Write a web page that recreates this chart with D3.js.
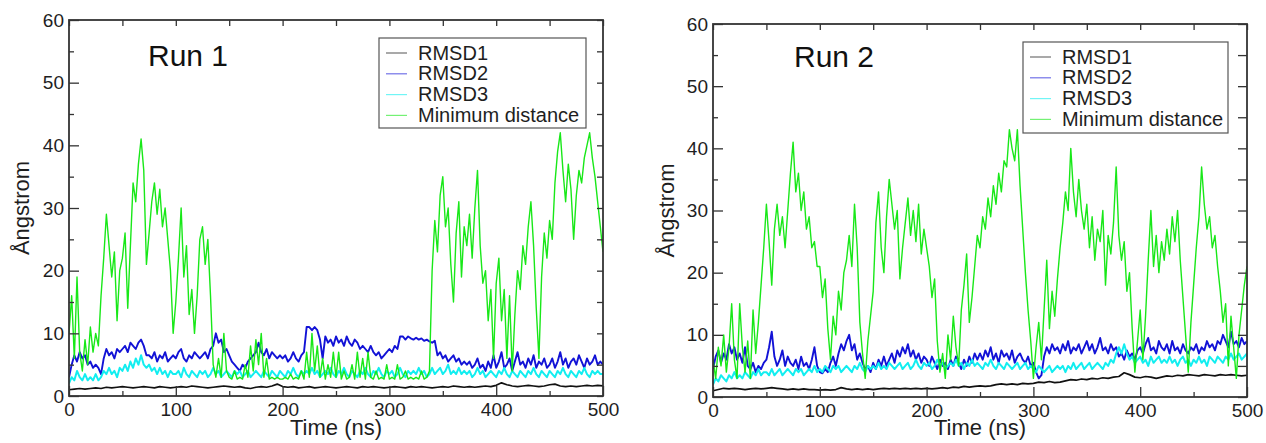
<!DOCTYPE html>
<html lang="en">
<head>
<meta charset="UTF-8">
<title>RMSD and minimum distance - Run 1 / Run 2</title>
<script src="https://d3js.org/d3.v7.min.js"></script>
<style>
  body, html { margin: 0; padding: 0; background: #fff; overflow: hidden; }
  svg { display: block; font-family: "Liberation Sans", Arial, Helvetica, sans-serif; }
  .tick text { font-size: 19px; fill: #1e1e1e; }
  .tick line { stroke: #333; stroke-width: 1.3px; }
</style>
</head>
<body>
<svg width="1266" height="443"></svg>
<script>
// ---- data ----
const xTicks = [0, 100, 200, 300, 400, 500];
const yTicks = [0, 10, 20, 30, 40, 50, 60];
const seriesNames = ["RMSD1", "RMSD2", "RMSD3", "Minimum distance"];
const seriesColors = ["#111111", "#1212d6", "#12eef0", "#18e818"];
const seriesWidths = [1.7, 1.9, 2.0, 1.4];
const runTitles = ["Run 1", "Run 2"];
const xLabel = "Time (ns)";
const yLabel = "Ångstrom";

// sampled every 5 ns
const run1Rmsd1 = [
  1.0, 1.1, 1.2, 1.1, 1.2, 1.3, 1.2, 1.4, 1.3, 1.4,
  1.5, 1.4, 1.3, 1.4, 1.5, 1.4, 1.3, 1.5, 1.4, 1.3,
  1.4, 1.5, 1.4, 1.6, 1.5, 1.4, 1.3, 1.4, 1.5, 1.6,
  1.5, 1.4, 1.5, 1.3, 1.2, 1.4, 1.5, 1.4, 1.6, 1.9,
  1.5, 1.4, 1.5, 1.3, 1.4, 1.5, 1.3, 1.4, 1.5, 1.4,
  1.3, 1.4, 1.5, 1.4, 1.3, 1.5, 1.4, 1.5, 1.4, 1.3,
  1.4, 1.5, 1.4, 1.3, 1.5, 1.4, 1.5, 1.4, 1.3, 1.4,
  1.5, 1.4, 1.6, 1.5, 1.4, 1.5, 1.4, 1.5, 1.6, 1.5,
  1.7, 2.1, 1.8, 1.6, 1.5, 1.6, 1.7, 1.6, 1.5, 1.6,
  1.8, 1.9, 1.6, 1.5, 1.6, 1.5, 1.6, 1.7, 1.6, 1.7,
  1.6
];
// sampled every 2.5 ns
const run1Rmsd2 = [
  3, 5, 6.5, 5.5, 7, 6, 6.5, 5, 5.5, 4.5,
  5, 4.5, 3.5, 6, 7.5, 6.5, 7, 6, 7.5, 7,
  7.5, 8, 7, 8.5, 8, 7.5, 8.5, 9, 8, 6.5,
  6.5, 6, 7, 5.5, 6.5, 6, 7, 5.5, 6, 6.5,
  6, 7, 7.5, 6, 5.5, 6.5, 6, 7, 6.5, 6,
  6.5, 7, 6, 7.5, 8, 10, 8.5, 9, 7, 7.5,
  6.5, 5.5, 5, 4.5, 4, 5, 4.5, 5.5, 6, 6.5,
  7, 8.5, 7, 6.5, 7.5, 6, 7, 6.5, 6, 6.5,
  6, 6.5, 5.5, 6, 7, 6, 5.5, 6.5, 7, 11,
  11, 10.5, 11, 10.5, 9, 6, 9.5, 8.5, 9, 8,
  9.5, 8.5, 9, 8, 9.5, 8.5, 8, 9, 8.5, 7.5,
  8, 7.5, 7, 8, 7, 6.5, 7, 6, 6.5, 7,
  7.5, 7, 8, 7.5, 9.5, 9.5, 9, 9.5, 9.2, 9,
  9.3, 9, 9.2, 8.8, 9, 8.7, 8.5, 8.8, 6.5, 7,
  6, 6.5, 5.5, 6, 6.5, 5.5, 6, 5, 5.5, 5,
  5.5, 4.5, 5, 6, 4.5, 5, 4, 5.5, 4.5, 6.5,
  4.5, 5.5, 7, 4.5, 5, 6, 4, 5.5, 7, 5,
  5.5, 4.5, 6, 5, 6.5, 4.5, 5.5, 5, 6, 4.5,
  5, 6, 4.5, 5.5, 7, 5, 6, 4.5, 5.5, 6,
  5, 6.5, 5.5, 4.5, 6, 5, 5.5, 6.5, 5, 5.5,
  5
];
const run1Rmsd3 = [
  2, 3, 2.5, 4, 3, 2.5, 3.5, 2.5, 3, 2.5,
  3.5, 2.5, 3, 4, 3.5, 4.5, 3.5, 4, 3, 4.5,
  4, 5, 4, 5.5, 4.5, 6, 5, 6.5, 5, 4.5,
  5, 4, 4.5, 3.5, 4.5, 3.5, 4, 3, 4, 3.5,
  3.5, 4, 3, 4.5, 3.5, 3, 4, 3.5, 3, 4,
  3.5, 4, 3, 3.5, 4.5, 3.5, 4, 3, 3.5, 4,
  3.5, 3, 4, 3.5, 4, 3, 3.5, 4, 3, 3.5,
  4, 3.5, 3, 4, 3.5, 3, 4, 3.5, 3, 4,
  3.5, 3, 4, 3.5, 4.5, 3.5, 3, 4, 3.5, 4,
  3.5, 4.5, 3.5, 4, 3, 3.5, 4, 3.5, 4.5, 3.5,
  3, 4, 3.5, 4.5, 3.5, 3, 4, 3.5, 3, 4,
  3.5, 4.5, 3.5, 3, 4, 3.5, 4.5, 3.5, 3, 4,
  3.5, 4, 3, 3.5, 4.5, 3.5, 3, 4, 3.5, 4,
  3.5, 4.5, 3.5, 4, 3, 3.5, 4.5, 3.5, 4, 4.5,
  3.5, 4, 5, 3.5, 4, 3.5, 4.5, 3.5, 4, 3.5,
  4, 3, 3.5, 4.5, 3.5, 4, 3, 3.5, 4, 3.5,
  3, 4, 3.5, 4.5, 3.5, 3, 4, 3.5, 3, 4,
  3.5, 3, 4, 3.5, 4.5, 3.5, 3, 4, 3.5, 3,
  4, 3.5, 3, 4, 3.5, 4.5, 3.5, 3, 4, 3.5,
  3, 4, 3.5, 4.5, 3.5, 3, 4, 3.5, 4, 3.5,
  3.5
];
const run1MinDist = [
  10, 16, 6, 19, 7, 4, 9, 5, 11, 7,
  10, 8, 16, 22, 29, 24, 19, 23, 12, 20,
  22, 26, 14, 24, 34, 31, 37, 41, 36, 21,
  26, 31, 34, 29, 33, 27, 30, 25, 20, 10,
  15, 22, 30, 19, 24, 13, 17, 10, 16, 25,
  27, 21, 25, 16, 5, 3, 6, 3, 10, 4,
  3, 2.7, 4, 2.7, 3, 2.7, 5, 3, 8, 4,
  9, 5, 10, 3, 6, 2.7, 3, 2.7, 3, 2.7,
  2.7, 3, 2.7, 3.5, 2.7, 3, 2.7, 4, 2.7, 7,
  3, 10, 4, 8, 3, 6, 2.7, 5, 3, 7,
  3, 7, 2.7, 4, 2.7, 3, 5, 2.7, 7, 3,
  6, 2.7, 7, 3, 2.7, 4, 2.7, 3, 2.7, 5,
  2.7, 3, 2.7, 5, 2.7, 3, 4, 2.7, 3, 2.7,
  3, 2.7, 4, 2.7, 3, 4, 20, 28, 23, 32,
  35, 27, 30, 21, 15, 26, 31, 19, 27, 24,
  29, 22, 30, 36, 24, 18, 20, 12, 17, 6,
  18, 22, 12, 17, 6, 16, 4, 13, 20, 17,
  24, 21, 27, 31, 24, 14, 6, 19, 26, 22,
  28, 25, 34, 39, 42, 36, 31, 37, 33, 25,
  32, 36, 34, 38, 40, 42, 38, 35, 31, 27,
  23
];

const run2Rmsd1 = [
  1.0, 1.2, 1.4, 1.3, 1.4, 1.3, 1.2, 1.3, 1.4, 1.3,
  1.4, 1.5, 1.4, 1.3, 1.2, 1.3, 1.2, 1.3, 1.2, 1.2,
  1.1, 1.2, 1.1, 1.2, 1.5, 1.3, 1.2, 1.3, 1.2, 1.3,
  1.2, 1.3, 1.4, 1.3, 1.4, 1.3, 1.4, 1.3, 1.4, 1.3,
  1.4, 1.3, 1.4, 1.5, 1.4, 1.6, 1.5, 1.7, 1.6, 1.7,
  1.8, 1.7, 1.8, 2.0, 2.1, 2.0, 2.1, 2.0, 2.2, 2.1,
  2.2, 2.4, 2.3, 2.5, 2.3, 2.4, 2.6, 2.8, 2.7, 2.9,
  2.8, 3.0, 2.9, 3.1, 3.0, 3.2, 3.3, 3.9, 3.6, 3.2,
  3.1, 3.3, 3.2, 3.0, 3.2, 3.4, 3.3, 3.5, 3.4, 3.6,
  3.5, 3.4, 3.6, 3.5, 3.4, 3.6, 3.5, 3.6, 3.5, 3.4,
  3.5
];
const run2Rmsd2 = [
  4.5, 6.5, 7.5, 5.5, 7, 6, 8.5, 7, 8, 6,
  7, 5.5, 8, 5, 4.5, 5.5, 4, 5, 4.5, 5.5,
  6, 8, 10.5, 6.5, 5, 6, 7.5, 5, 6.5, 5.5,
  5, 6, 4.5, 6.5, 5, 5.5, 4.5, 6, 8, 5,
  4, 3.8, 4.5, 4, 5.5, 6.5, 5, 7, 8.5, 7.5,
  9, 10, 7.5, 8.5, 6, 7, 5.5, 4.5, 5, 4,
  5.5, 4.5, 6, 5, 6.5, 5, 6, 7, 5.5, 7.5,
  6.5, 8, 7, 8.5, 6.5, 7.5, 6, 7, 5.5, 6.5,
  6, 5, 6.5, 5.5, 4.5, 6, 5, 5.5, 4.5, 6,
  5, 6.5, 5.5, 4.5, 6, 5, 6.5, 5.5, 7, 6,
  7, 6, 7.5, 6.5, 8, 6, 7, 5.5, 7.5, 6.5,
  7, 6, 7.5, 5.5, 6.5, 7, 6, 5.5, 6.5, 5,
  5.5, 4, 3, 3.5, 6.5, 8, 7, 8.5, 7.5, 8,
  7, 8.5, 7.5, 9, 7, 8, 7.5, 8.5, 7, 8,
  9, 7.5, 8.5, 7, 8, 9.5, 7.5, 8, 7, 8.5,
  7.5, 8, 6.5, 7, 6, 7.5, 6.5, 7, 6, 7.5,
  8, 7, 8.5, 9.5, 7.5, 8, 7, 9, 8, 7.5,
  8.5, 7, 9, 7.5, 8, 7, 8.5, 7.5, 7, 8,
  7.5, 8.5, 7, 8, 7.5, 9, 8, 8.5, 7.5, 9,
  8.5, 10, 9, 8, 10.5, 8.5, 9, 8, 9.5, 8.5,
  9
];
const run2Rmsd3 = [
  2, 3, 2.5, 3.5, 3, 2.5, 3.5, 3, 4, 3,
  3.5, 3, 4, 3.5, 3, 4, 3.5, 4.5, 3.5, 4,
  4, 3.5, 4.5, 3.5, 4, 4.5, 3.5, 4, 4.5, 4,
  3.5, 4.5, 4, 4.5, 3.5, 4, 4.5, 4, 5, 4,
  4.5, 4, 5, 4.5, 4, 5, 4.5, 5, 4, 4.5,
  5, 4.5, 4, 5, 4.5, 5.5, 4.5, 4, 5, 4.5,
  5, 4.5, 5.5, 4.5, 5, 4.5, 5.5, 5, 4.5, 5,
  5.5, 4.5, 5, 5.5, 4.5, 5, 6, 5, 4.5, 5.5,
  5, 5.5, 4.5, 5, 6, 5, 5.5, 4.5, 5, 5.5,
  5, 6, 5, 5.5, 4.5, 5.5, 5, 6, 5, 5.5,
  5, 4.5, 5.5, 5, 6, 5, 4.5, 5.5, 5, 4.5,
  5.5, 5, 4.5, 5, 5.5, 4.5, 5, 5.5, 4.5, 5,
  4.5, 4, 5, 4.5, 4, 4.5, 5, 4, 4.5, 5,
  4.5, 5, 4, 5, 4.5, 5.5, 4.5, 5, 5.5, 4.5,
  5, 5.5, 4.5, 5, 5.5, 5, 4.5, 5.5, 5, 6,
  5.5, 7, 8, 7, 8.5, 7, 6, 6.5, 5.5, 6,
  6.5, 5.5, 6, 5, 6.5, 5.5, 6, 6.5, 5.5, 6,
  5.5, 6.5, 5.5, 6, 5, 6, 6.5, 5.5, 6, 5,
  6, 5.5, 6.5, 5.5, 6, 5, 6.5, 6, 5.5, 6.5,
  6, 5.5, 6.5, 6, 7, 6, 6.5, 7, 6, 6.5,
  7
];
const run2MinDist = [
  6, 3, 8, 5, 10, 4, 8, 15, 6, 3,
  15, 8, 4, 9, 3, 14, 7, 12, 18, 24,
  31, 25, 18, 27, 31, 26, 29, 24, 30, 36,
  41, 33, 36, 30, 33, 27, 29, 24, 25, 21,
  21, 16, 19, 11, 6, 13, 10, 17, 14, 20,
  22, 26, 21, 31, 24, 12, 7, 3, 9, 13,
  17, 28, 33, 24, 20, 29, 35, 31, 27, 30,
  19, 24, 28, 32, 26, 30, 25, 31, 23, 27,
  24, 21, 16, 19, 9, 4, 7, 3, 10, 6,
  13, 8, 5, 14, 18, 23, 12, 16, 21, 26,
  24, 29, 27, 32, 29, 34, 31, 36, 33, 38,
  37, 43, 40, 38, 43, 34, 27, 20, 14, 9,
  3, 8, 12, 6, 14, 22, 11, 17, 13, 19,
  24, 28, 33, 30, 40, 33, 29, 35, 30, 27,
  31, 24, 29, 22, 27, 25, 30, 18, 26, 23,
  28, 37, 26, 22, 25, 17, 20, 11, 4, 9,
  14, 6, 13, 22, 30, 21, 26, 20, 25, 22,
  27, 23, 29, 25, 30, 22, 16, 10, 4, 12,
  18, 24, 29, 37, 31, 27, 29, 24, 26, 21,
  17, 12, 15, 5, 13, 8, 3, 10, 14, 18,
  21
];

const runs = [
  [run1Rmsd1, run1Rmsd2, run1Rmsd3, run1MinDist],
  [run2Rmsd1, run2Rmsd2, run2Rmsd3, run2MinDist]
];

// ---- layout ----
const panels = [
  { left: 69, right: 603, top: 20, bottom: 396, titleX: 148, titleY: 66,
    yLabelX: 29, legend: { x: 379, y: 38, w: 207, h: 90 }, rightTick: 6 },
  { left: 713, right: 1247, top: 24, bottom: 397, titleX: 794, titleY: 67,
    yLabelX: 674, legend: { x: 1023, y: 42, w: 205, h: 91 }, rightTick: 9 }
];

const svg = d3.select("svg");

panels.forEach((p, idx) => {
  const x = d3.scaleLinear().domain([0, 500]).range([p.left, p.right]);
  const y = d3.scaleLinear().domain([0, 60]).range([p.bottom, p.top]);
  const g = svg.append("g");

  const clipId = "plotclip" + idx;
  svg.append("clipPath").attr("id", clipId)
    .append("rect")
    .attr("x", p.left).attr("y", p.top)
    .attr("width", p.right - p.left).attr("height", p.bottom - p.top);

  // series lines, last one (minimum distance) on top
  const line = d3.line().x(d => x(d[0])).y(d => y(d[1]));
  runs[idx].forEach((vals, k) => {
    const step = 500 / (vals.length - 1);
    const pts = vals.map((v, i) => [i * step, v]);
    g.append("path")
      .datum(pts)
      .attr("clip-path", `url(#${clipId})`)
      .attr("fill", "none")
      .attr("stroke", seriesColors[k])
      .attr("stroke-width", seriesWidths[k])
      .attr("stroke-linejoin", "round")
      .attr("d", line);
  });

  // axes, ticks pointing inward
  const bottom = p.bottom, left = p.left;
  g.append("g").attr("transform", `translate(0,${bottom})`)
    .call(d3.axisBottom(x).tickValues(xTicks).tickSize(-10).tickPadding(7));
  g.append("g").attr("transform", `translate(0,${bottom})`)
    .call(d3.axisBottom(x).tickValues(d3.range(50, 500, 100)).tickSize(-5).tickFormat(""));
  g.append("g").attr("transform", `translate(${left},0)`)
    .call(d3.axisLeft(y).tickValues(yTicks).tickSize(-10).tickPadding(5));
  g.append("g").attr("transform", `translate(${left},0)`)
    .call(d3.axisLeft(y).tickValues(d3.range(5, 60, 10)).tickSize(-5).tickFormat(""));
  g.append("g").attr("transform", `translate(0,${p.top})`)
    .call(d3.axisTop(x).tickValues(d3.range(0, 501, 50)).tickSize(-6).tickFormat(""));
  g.append("g").attr("transform", `translate(${p.right},0)`)
    .call(d3.axisRight(y).tickValues(d3.range(0, 61, 5)).tickSize(-p.rightTick).tickFormat(""));
  g.selectAll(".domain").remove();
  g.selectAll(".tick text").attr("font-family", null);

  g.append("rect")
    .attr("x", p.left).attr("y", p.top)
    .attr("width", p.right - p.left).attr("height", p.bottom - p.top)
    .attr("fill", "none").attr("stroke", "#333").attr("stroke-width", 1.8);

  // axis titles
  g.append("text")
    .attr("x", (p.left + p.right) / 2).attr("y", 435)
    .attr("text-anchor", "middle").attr("font-size", 22).attr("fill", "#1e1e1e")
    .text(xLabel);
  g.append("text")
    .attr("transform", `translate(${p.yLabelX},${(p.top + p.bottom) / 2}) rotate(-90)`)
    .attr("text-anchor", "middle").attr("font-size", 22).attr("fill", "#1e1e1e")
    .text(yLabel);

  // run title
  g.append("text")
    .attr("x", p.titleX).attr("y", p.titleY)
    .attr("font-size", 30).attr("fill", "#111")
    .text(runTitles[idx]);

  // legend
  const L = p.legend;
  const lg = g.append("g");
  lg.append("rect")
    .attr("x", L.x).attr("y", L.y).attr("width", L.w).attr("height", L.h)
    .attr("fill", "#fff").attr("stroke", "#555").attr("stroke-width", 1.2);
  seriesNames.forEach((name, k) => {
    const by = L.y + 21.5 + k * 20.8;
    lg.append("line")
      .attr("x1", L.x + 7).attr("x2", L.x + 28)
      .attr("y1", by - 6.5).attr("y2", by - 6.5)
      .attr("stroke", seriesColors[k]).attr("stroke-opacity", 0.6).attr("stroke-width", 1.2);
    lg.append("text")
      .attr("x", L.x + 39).attr("y", by)
      .attr("font-size", 20).attr("fill", "#1e1e1e")
      .text(name);
  });
});
</script>
</body>
</html>
